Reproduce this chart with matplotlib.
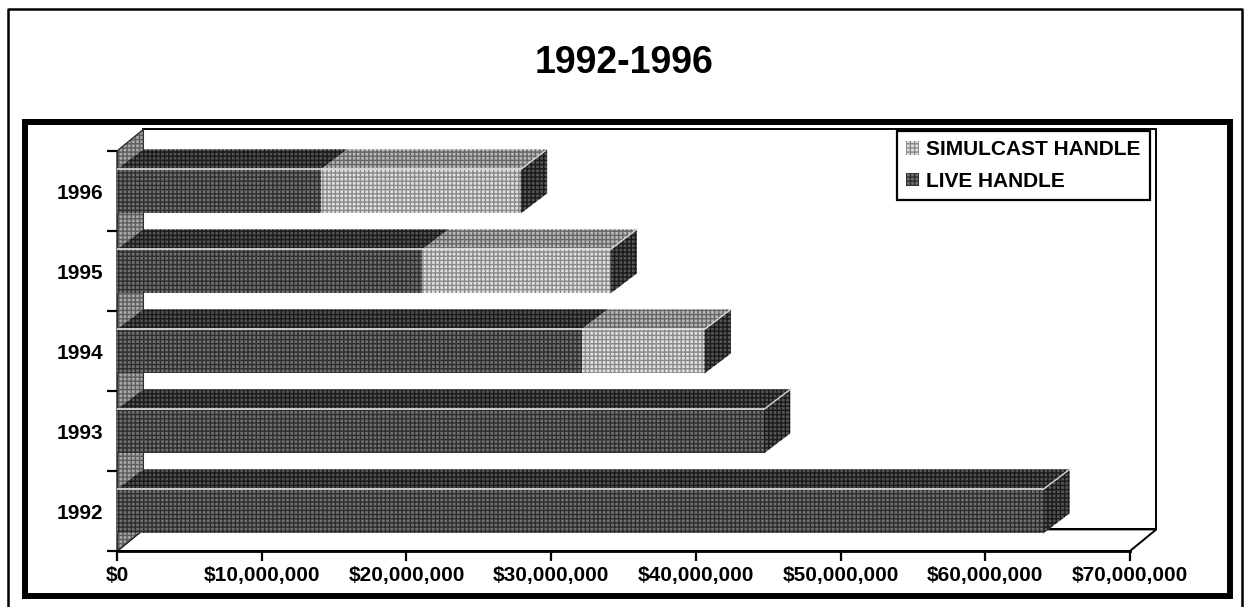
import matplotlib
matplotlib.use('Agg')
import matplotlib.pyplot as plt
from matplotlib.patches import Polygon, Patch
from matplotlib.lines import Line2D
from matplotlib.ticker import FuncFormatter

# values, in dollars (1992 -> 1996)
years = ['1992', '1993', '1994', '1995', '1996']
live_handle = [64.0e6, 44.7e6, 32.1e6, 21.1e6, 14.1e6]
simulcast_handle = [0.0, 0.0, 8.5e6, 13.0e6, 13.8e6]
x_ticks = [0, 10e6, 20e6, 30e6, 40e6, 50e6, 60e6, 70e6]
title = '1992-1996'

plt.rcParams['font.family'] = ['Liberation Sans', 'DejaVu Sans']
plt.rcParams['font.weight'] = 'bold'
plt.rcParams['hatch.linewidth'] = 1.0

W, H = 1247, 607
fig = plt.figure(figsize=(W / 100, H / 100), dpi=100, facecolor='white')

# axes placed so that $0 -> x=117px, $70M -> x=1130px, categories span 151..551px
ax = fig.add_axes([117 / W, (H - 551) / H, (1130 - 117) / W, (551 - 151) / H])
ax.set_xlim(0, 70e6)
ax.set_ylim(0, 5)
ax.set_facecolor('none')

# 3D depth offsets (data units)
dx = 1.82e6
dy_floor = 0.27
dy_bar = 0.25
HATCH = '++++'

# back wall, floor, left wall
xmax = 70e6
ax.add_patch(Polygon([(dx, dy_floor), (xmax + dx, dy_floor), (xmax + dx, 5 + dy_floor),
                      (dx, 5 + dy_floor)], closed=True, facecolor='white',
                     edgecolor='black', lw=1.4, zorder=0.5, clip_on=False))
ax.add_patch(Polygon([(0, 0), (xmax, 0), (xmax + dx, dy_floor), (dx, dy_floor)],
                     closed=True, facecolor='white', edgecolor='black', lw=1.4,
                     zorder=0.6, clip_on=False))
ax.add_patch(Polygon([(0, 0), (0, 5), (dx, 5 + dy_floor), (dx, dy_floor)], closed=True,
                     facecolor='#a8a8a8', edgecolor='#5e5e5e', lw=0, hatch=HATCH,
                     zorder=0.8, clip_on=False))
ax.add_patch(Polygon([(0, 0), (0, 5), (dx, 5 + dy_floor), (dx, dy_floor)], closed=True,
                     facecolor='none', edgecolor='#333333', lw=1.0,
                     zorder=0.9, clip_on=False))

live_front = dict(color='#707070', ec='#2e2e2e')
live_top = dict(color='#505050', ec='#1a1a1a')
sim_front = dict(color='#e0e0e0', ec='#8a8a8a')
sim_top = dict(color='#b8b8b8', ec='#666666')
side = dict(color='#545454', ec='#1a1a1a')

bar_h = 0.55
bar_off = 0.22
centers = [i + bar_off + bar_h / 2 for i in range(len(years))]

for i in reversed(range(len(years))):
    z = 2 + (len(years) - i)
    yb = i + bar_off
    yt = yb + bar_h
    segs = [(0, live_handle[i], live_front, live_top),
            (live_handle[i], simulcast_handle[i], sim_front, sim_top)]
    for left, width, front, top in segs:
        if width <= 0:
            continue
        ax.barh(centers[i], width, height=bar_h, left=left, color=front['color'],
                edgecolor=front['ec'], linewidth=0, hatch=HATCH, zorder=z)
        right = left + width
        ax.add_patch(Polygon([(left, yt), (right, yt), (right + dx, yt + dy_bar),
                              (left + dx, yt + dy_bar)], closed=True,
                             facecolor=top['color'], edgecolor=top['ec'], lw=0,
                             hatch=HATCH, zorder=z, clip_on=False))
        ax.plot([left, right], [yt, yt], color='#e4e4e4', lw=1.2, zorder=z + 0.1,
                solid_capstyle='butt')
    end = live_handle[i] + simulcast_handle[i]
    ax.add_patch(Polygon([(end, yb), (end, yt), (end + dx, yt + dy_bar),
                          (end + dx, yb + dy_bar)], closed=True,
                         facecolor=side['color'], edgecolor=side['ec'], lw=0,
                         hatch=HATCH, zorder=z, clip_on=False))
    ax.plot([end, end + dx], [yt, yt + dy_bar], color='#d8d8d8', lw=1.0, zorder=z + 0.1)

# axes styling
for s in ['top', 'right']:
    ax.spines[s].set_visible(False)
ax.spines['bottom'].set_linewidth(2.0)
ax.spines['bottom'].set_zorder(10)
ax.spines['left'].set_linewidth(1.0)
ax.spines['left'].set_color('#333333')

ax.set_xticks(x_ticks)
ax.xaxis.set_major_formatter(FuncFormatter(lambda v, p: f'${v:,.0f}'))
ax.tick_params(axis='x', direction='out', length=7, width=1.6, pad=4, labelsize=15)

ax.set_yticks(centers)
ax.set_yticklabels(years)
ax.set_yticks(range(0, 6), minor=True)
ax.tick_params(axis='y', which='major', length=0, pad=10, labelsize=15)
ax.tick_params(axis='y', which='minor', direction='out', length=7, width=1.6)
for lbl in ax.get_xticklabels() + ax.get_yticklabels():
    lbl.set_fontweight('bold')

# legend
handles = [Patch(facecolor=sim_front['color'], edgecolor=sim_front['ec'], lw=0, hatch=HATCH),
           Patch(facecolor=live_front['color'], edgecolor=live_front['ec'], lw=0, hatch=HATCH)]
leg = ax.legend(handles, ['SIMULCAST HANDLE', 'LIVE HANDLE'], loc='upper right',
                bbox_to_anchor=(1150 / W, 1 - 131 / H), bbox_transform=fig.transFigure,
                borderaxespad=0, fancybox=False, framealpha=1, edgecolor='black',
                prop={'size': 15, 'weight': 'bold'}, handlelength=0.6, handleheight=0.6,
                handletextpad=0.35, labelspacing=0.6, borderpad=0.45)
leg.get_frame().set_linewidth(1.6)
leg.set_zorder(20)

fig.text(624 / W, 1 - 63 / H, title, ha='center', va='center', fontsize=27,
         fontweight='bold')

# page borders: thin outer frame, thick inner frame
fig.add_artist(Line2D([8 / W, 8 / W, 1242 / W, 1242 / W], [0, 1 - 9 / H, 1 - 9 / H, 0],
                      transform=fig.transFigure, color='black', lw=1.8))
fig.add_artist(Polygon([(25 / W, 1 - 122 / H), (1230 / W, 1 - 122 / H),
                        (1230 / W, 1 - 596 / H), (25 / W, 1 - 596 / H)], closed=True,
                       transform=fig.transFigure, facecolor='none', edgecolor='black',
                       lw=4.3))

fig.savefig('out.png', dpi=100, facecolor='white')
